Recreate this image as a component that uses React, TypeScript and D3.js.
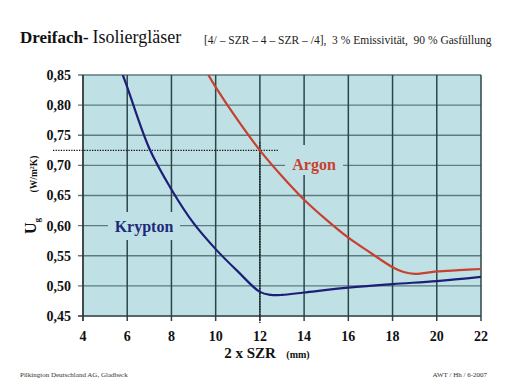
import React from "react";
import * as d3 from "d3";

const xTicks = [4, 6, 8, 10, 12, 14, 16, 18, 20, 22];
const yTicks = [0.45, 0.5, 0.55, 0.6, 0.65, 0.7, 0.75, 0.8, 0.85];

const kryptonX = [5.8, 6, 7, 8, 9, 10, 11, 12, 12.5, 13, 14, 16, 18, 20, 22];
const kryptonY = [0.85, 0.83, 0.728, 0.66, 0.604, 0.561, 0.524, 0.49, 0.485, 0.485, 0.489, 0.497, 0.503, 0.508, 0.515];

const argonX = [9.67, 10, 11, 12, 13, 14, 15, 16, 17, 18, 18.5, 19, 20, 21, 22];
const argonY = [0.85, 0.83, 0.775, 0.725, 0.682, 0.643, 0.61, 0.58, 0.555, 0.531, 0.523, 0.52, 0.524, 0.526, 0.528];

const refX = 12;
const refY = 0.725;

const fmt = (v: number) => v.toFixed(2).replace(".", ",");

export default function App() {
  const W = 506, H = 380;
  const left = 83, right = 481, top = 75, bottom = 316;
  const x = d3.scaleLinear().domain([4, 22]).range([left, right]);
  const y = d3.scaleLinear().domain([0.45, 0.85]).range([bottom, top]);

  const line = d3.line<[number, number]>().x(d => x(d[0])).y(d => y(d[1])).curve(d3.curveCatmullRom.alpha(0.5));
  const kr = kryptonX.map((v, i) => [v, kryptonY[i]] as [number, number]);
  const ar = argonX.map((v, i) => [v, argonY[i]] as [number, number]);

  const serif = "'Liberation Serif', 'DejaVu Serif', serif";
  const bg = "#bfe1e6";

  return (
    <svg width={W} height={H} style={{ position: "absolute", left: 0, top: 0, background: "#fff" }} fontFamily={serif}>
      <text x={20} y={43} fontSize={17} fill="#111">
        <tspan fontWeight="bold">Dreifach-</tspan>
        <tspan dx={4} fontSize={18}>Isoliergläser</tspan>
      </text>
      <text x={204} y={44} fontSize={11.5} fill="#222" style={{ whiteSpace: "pre" }}>[4/ – SZR – 4 – SZR – /4],  3 % Emissivität,  90 % Gasfüllung</text>

      <rect x={left} y={top} width={right - left} height={bottom - top} fill={bg} />
      <defs>
        <clipPath id="plot"><rect x={left} y={top} width={right - left} height={bottom - top} /></clipPath>
      </defs>
      {yTicks.map(t => (
        <line key={"h" + t} x1={left - 5} x2={right} y1={y(t)} y2={y(t)} stroke="#5d7c7e" strokeWidth={1.3} />
      ))}
      {xTicks.map(t => (
        <line key={"v" + t} x1={x(t)} x2={x(t)} y1={top} y2={bottom + 5} stroke="#2c4648" strokeWidth={1.5} />
      ))}
      <line x1={left} x2={left} y1={top} y2={bottom + 5} stroke="#333" strokeWidth={1.2} />
      <line x1={left - 5} x2={right} y1={bottom} y2={bottom} stroke="#333" strokeWidth={1.2} />

      <line x1={53} x2={279} y1={y(refY)} y2={y(refY)} stroke="#111" strokeWidth={1.3} strokeDasharray="1.3,1.3" />
      <line x1={x(refX)} x2={x(refX)} y1={y(refY) - 8} y2={bottom + 7} stroke="#111" strokeWidth={1.3} strokeDasharray="1.3,1.3" />

      <g clipPath="url(#plot)">
        <path d={line(ar) || ""} fill="none" stroke="#c8402f" strokeWidth={2.2} />
        <path d={line(kr) || ""} fill="none" stroke="#1e1e78" strokeWidth={2.2} />
      </g>

      <rect x={108} y={212} width={72} height={28} fill={bg} />
      <text x={144} y={232} fontSize={16} fontWeight="bold" fill="#1e2a78" textAnchor="middle">Krypton</text>
      <rect x={285} y={145} width={58} height={30} fill={bg} />
      <text x={314} y={170} fontSize={16} fontWeight="bold" fill="#c8402f" textAnchor="middle">Argon</text>

      {yTicks.map(t => (
        <text key={"yl" + t} x={71} y={y(t)} dy="0.35em" fontSize={14} fontWeight="bold" textAnchor="end" fill="#111">{fmt(t)}</text>
      ))}
      {xTicks.map(t => (
        <text key={"xl" + t} x={x(t)} y={341} fontSize={14} fontWeight="bold" textAnchor="middle" fill="#111">{t}</text>
      ))}
      <text x={250} y={358} fontSize={15} fontWeight="bold" textAnchor="middle" fill="#111">2 x SZR</text>
      <text x={298} y={358} fontSize={10} fontWeight="bold" textAnchor="middle" fill="#111">(mm)</text>

      <text transform="translate(36,226) rotate(-90)" fontSize={16} fontWeight="bold" textAnchor="middle" fill="#111">
        U<tspan fontSize={9} dy={4}>g</tspan>
      </text>
      <text transform="translate(37,174) rotate(-90)" fontSize={9.5} fontWeight="bold" textAnchor="middle" fill="#111">
        (W/m<tspan fontSize={6} dy={-3}>2</tspan><tspan dy={3}>K)</tspan>
      </text>

      <text x={20} y={377} fontSize={7} fill="#333">Pilkington Deutschland AG, Gladbeck</text>
      <text x={487} y={377} fontSize={7} fill="#333" textAnchor="end">AWT / Hh / 6-2007</text>
    </svg>
  );
}
